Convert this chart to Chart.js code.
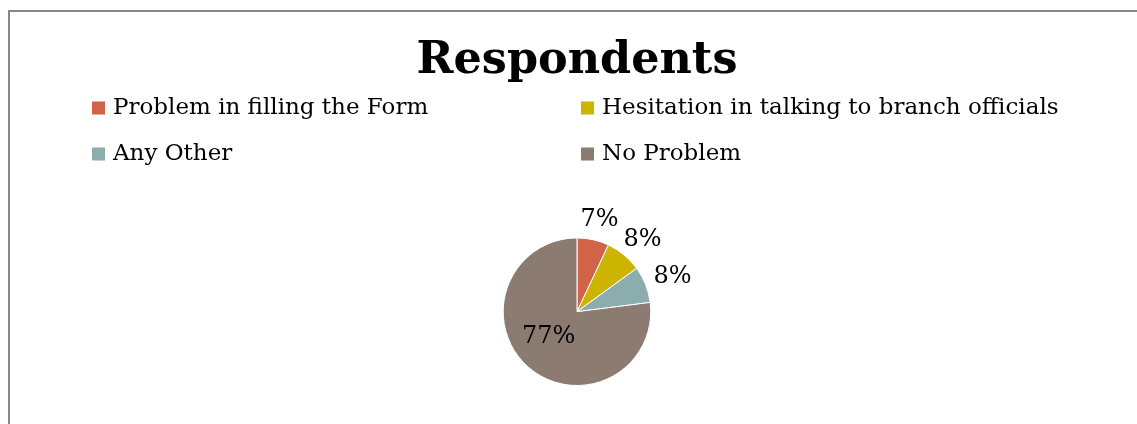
<!DOCTYPE html>
<html>
<head>
<meta charset="utf-8">
<title>Respondents</title>
<script src="https://cdn.jsdelivr.net/npm/chart.js@4.4.0/dist/chart.umd.min.js"></script>
<style>
    html, body { margin: 0; padding: 0; background: #fff; overflow: hidden; }
    body { width: 1137px; height: 424px; position: relative; }
    #frame {
        position: absolute; left: 8px; top: 10px; width: 1140px; height: 420px;
        border-left: 2px solid #888; border-top: 2px solid #888;
    }
    #wrap { position: absolute; left: 10px; top: 12px; width: 1134px; height: 412px; }
</style>
</head>
<body>
<div id="frame"></div>
<div id="wrap"><canvas id="pieChart"></canvas></div>
<script>
// ===== данные =====
const categories = [
    'Problem in filling the Form',
    'Hesitation in talking to branch officials',
    'Any Other',
    'No Problem'
];
const respondents = [7, 8, 8, 77];
const sliceColors = ['#D16349', '#CCB400', '#8CADAE', '#8C7B70'];

const FONT = '"DejaVu Serif", Georgia, serif';

// подписи процентов на секторах
const pieLabels = {
    id: 'pieLabels',
    afterDatasetsDraw(chart) {
        const ctx = chart.ctx;
        const meta = chart.getDatasetMeta(0);
        const total = respondents.reduce((a, b) => a + b, 0);
        ctx.save();
        ctx.font = '24px ' + FONT;
        ctx.fillStyle = '#000';
        ctx.textAlign = 'center';
        ctx.textBaseline = 'middle';
        meta.data.forEach((arc, i) => {
            const share = respondents[i] / total;
            const text = Math.round(share * 100) + '%';
            const mid = (arc.startAngle + arc.endAngle) / 2;
            const cos = Math.cos(mid), sin = Math.sin(mid);
            let x, y;
            if (share > 0.3) {
                x = arc.x + cos * arc.outerRadius * 0.5 - 4;
                y = arc.y + sin * arc.outerRadius * 0.5 - 3;
            } else {
                const w = ctx.measureText(text).width;
                const d = arc.outerRadius + 10;
                x = arc.x + cos * (d + w / 2);
                y = arc.y + sin * (d + 10);
            }
            ctx.fillText(text, x, y);
        });
        ctx.restore();
    }
};

// легенда в две колонки
const columnLegend = {
    id: 'columnLegend',
    afterDraw(chart) {
        const ctx = chart.ctx;
        const colX = [82, chart.width / 2 + 4];
        const rowY = [96, 142];
        ctx.save();
        ctx.font = '23px ' + FONT;
        ctx.textBaseline = 'middle';
        ctx.textAlign = 'left';
        categories.forEach((name, i) => {
            const x = colX[i % 2];
            const y = rowY[Math.floor(i / 2)];
            ctx.fillStyle = sliceColors[i];
            ctx.fillRect(x, y - 6.5, 13, 13);
            ctx.fillStyle = '#000';
            ctx.fillText(name, x + 21, y);
        });
        ctx.restore();
    }
};

new Chart(document.getElementById('pieChart'), {
    type: 'pie',
    data: {
        labels: categories,
        datasets: [{
            data: respondents,
            backgroundColor: sliceColors,
            borderColor: '#fff',
            borderWidth: 1,
            hoverOffset: 0
        }]
    },
    options: {
        responsive: true,
        maintainAspectRatio: false,
        animation: false,
        layout: { padding: { top: 0, bottom: 38, left: 0, right: 0 } },
        plugins: {
            title: {
                display: true,
                text: 'Respondents',
                color: '#000',
                font: { family: FONT, size: 44.5, weight: 'bold' },
                padding: { top: 23, bottom: 149 }
            },
            legend: { display: false },
            tooltip: { enabled: false }
        }
    },
    plugins: [pieLabels, columnLegend]
});
</script>
</body>
</html>
